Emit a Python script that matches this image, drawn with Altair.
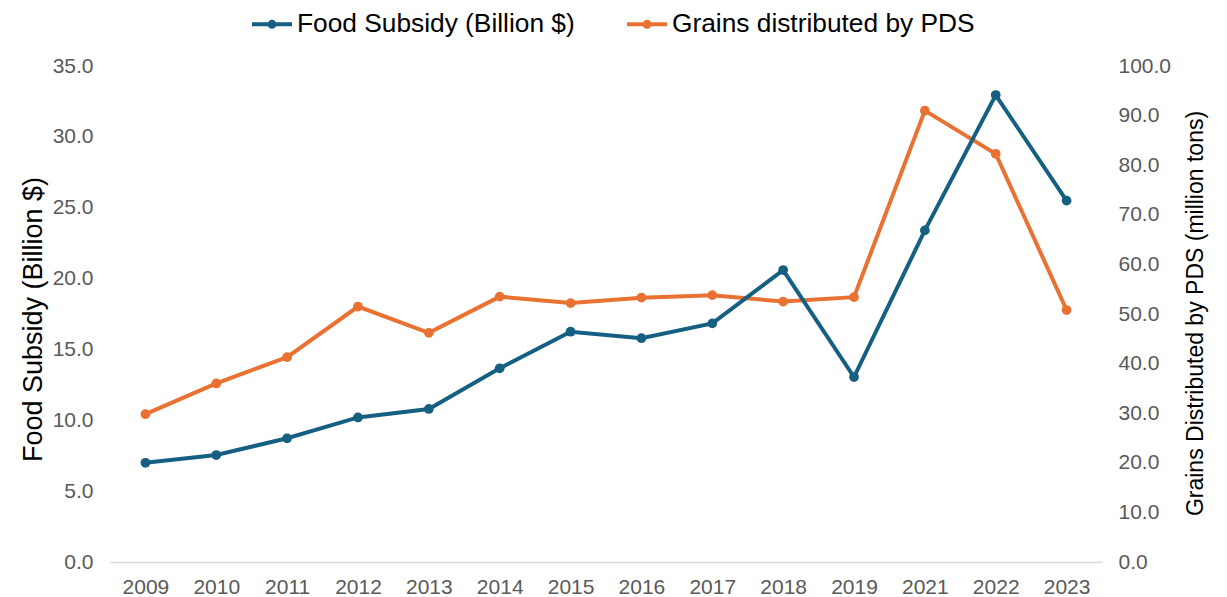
import altair as alt
import pandas as pd

years = ["2009", "2010", "2011", "2012", "2013", "2014", "2015", "2016",
         "2017", "2018", "2019", "2021", "2022", "2023"]
subsidy = [7.0, 7.55, 8.73, 10.2, 10.8, 13.67, 16.25, 15.79, 16.84, 20.6,
           13.05, 23.4, 32.95, 25.5]
grains = [29.8, 36.0, 41.3, 51.5, 46.2, 53.5, 52.2, 53.3, 53.8, 52.5,
          53.4, 91.0, 82.3, 50.8]

series_names = ["Food Subsidy (Billion $)", "Grains distributed by PDS"]
colors = ["#156082", "#E97132"]
left_ticks = [0, 5, 10, 15, 20, 25, 30, 35]
right_ticks = [0, 10, 20, 30, 40, 50, 60, 70, 80, 90, 100]

df = pd.DataFrame({"Year": years, "Subsidy": subsidy, "Grains": grains})

FONT = "Liberation Sans"
sym_path = "M-1,0H1M-0.125,0A0.125,0.125,0,1,0,0.125,0A0.125,0.125,0,1,0,-0.125,0Z"

color_scale = alt.Scale(domain=series_names, range=colors)
legend = alt.Legend(
    orient="none", legendX=140, legendY=-64, direction="horizontal",
    title=None, symbolType=sym_path, symbolSize=1600, symbolStrokeWidth=4,
    labelFontSize=26.3, labelColor="#000000", labelFont=FONT, labelLimit=0,
    columnPadding=44, labelOffset=3, padding=0,
)

x_enc = alt.X(
    "Year:N", sort=years, title=None,
    axis=alt.Axis(labelAngle=0, labelFontSize=21, labelColor="#595959",
                  labelFont=FONT, ticks=False, domainColor="#d9d9d9",
                  domainWidth=1.5, labelPadding=14, grid=False),
)
color_enc = alt.Color("Series:N", scale=color_scale, legend=legend)

base = alt.Chart(df)

left_y = alt.Y(
    "Subsidy:Q",
    scale=alt.Scale(domain=[0, 35], nice=False, zero=True),
    axis=alt.Axis(values=left_ticks, format=".1f", grid=False, domain=False,
                  ticks=False, labelFontSize=21, labelColor="#595959",
                  labelFont=FONT, labelPadding=17,
                  title="Food Subsidy (Billion $)", titleFontSize=27,
                  titleFont=FONT, titleFontWeight="normal",
                  titleColor="#000000", titleX=-77, titleY=253,
                  titleBaseline="middle", titleAngle=270),
)
right_y = alt.Y(
    "Grains:Q",
    scale=alt.Scale(domain=[0, 100], nice=False, zero=True),
    axis=alt.Axis(orient="right", values=right_ticks, format=".1f",
                  grid=False, domain=False, ticks=False, labelFontSize=21,
                  labelColor="#595959", labelFont=FONT, labelPadding=16,
                  title="Grains Distributed by PDS (million tons)",
                  titleFontSize=23, titleFont=FONT,
                  titleFontWeight="normal", titleColor="#000000",
                  titleX=93, titleY=247, titleBaseline="middle",
                  titleAngle=270),
)

left_line = base.transform_calculate(Series=f"'{series_names[0]}'").mark_line(
    strokeWidth=4).encode(x=x_enc, y=left_y, color=color_enc)
left_pts = base.mark_circle(size=95, opacity=1, color=colors[0]).encode(
    x=x_enc, y=left_y,
)
right_line = base.transform_calculate(Series=f"'{series_names[1]}'").mark_line(
    strokeWidth=4).encode(x=x_enc, y=right_y, color=color_enc)
right_pts = base.mark_circle(size=95, opacity=1, color=colors[1]).encode(
    x=x_enc, y=right_y,
)

left = alt.layer(left_line, left_pts)
right = alt.layer(right_line, right_pts)

chart = alt.layer(right, left).resolve_scale(y="independent").properties(
    width=992, height=496,
    autosize=alt.AutoSizeParams(type="none"),
    padding={"left": 110, "top": 66, "right": 125, "bottom": 35},
    background="white",
).configure(font=FONT).configure_view(stroke="transparent", strokeWidth=0)

chart.save("out.html", embed_options={"renderer": "svg", "actions": False})
